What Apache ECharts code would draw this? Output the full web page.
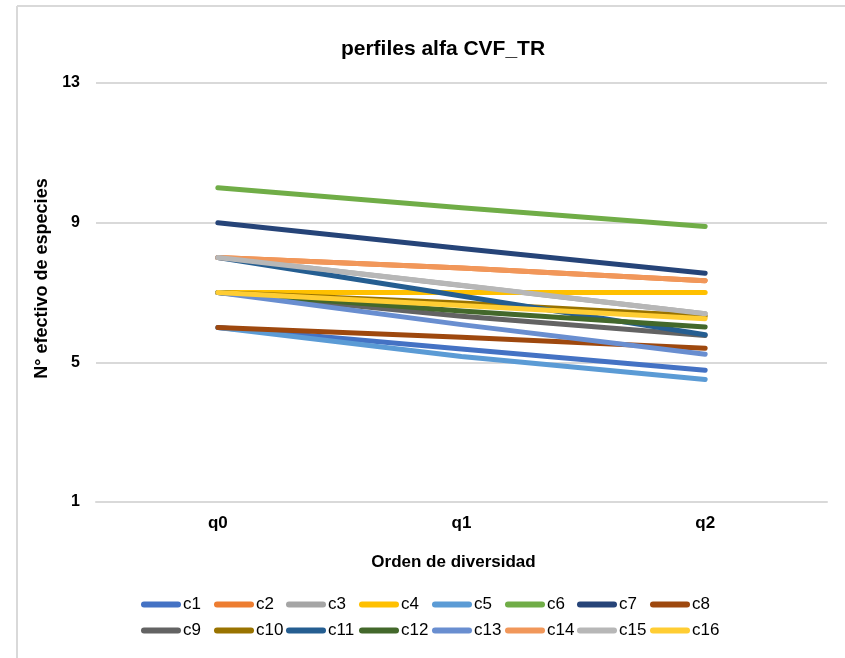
<!DOCTYPE html>
<html>
<head>
<meta charset="utf-8">
<title>perfiles alfa CVF_TR</title>
<script src="https://cdn.jsdelivr.net/npm/echarts@6/dist/echarts.min.js"></script>
<style>
  html, body { margin: 0; padding: 0; background: #ffffff; }
  #chart { width: 845px; height: 658px; }
</style>
</head>
<body>
<div id="chart"></div>
<script>
// Diversity orders on the x axis
const categories = ['q0', 'q1', 'q2'];

// Effective number of species per profile (q0, q1, q2)
const c1  = [6.00, 5.38, 4.77];
const c2  = [8.00, 7.70, 7.34];
const c3  = [8.00, 7.20, 6.39];
const c4  = [7.00, 7.00, 7.00];
const c5  = [6.00, 5.17, 4.51];
const c6  = [10.00, 9.43, 8.89];
const c7  = [9.00, 8.26, 7.55];
const c8  = [6.00, 5.72, 5.40];
const c9  = [7.00, 6.32, 5.77];
const c10 = [7.00, 6.70, 6.32];
const c11 = [8.00, 6.90, 5.79];
const c12 = [7.00, 6.47, 6.01];
const c13 = [7.00, 6.08, 5.23];
const c14 = [8.00, 7.70, 7.34];
const c15 = [8.00, 7.21, 6.39];
const c16 = [7.00, 6.63, 6.25];

const seriesNames = ['c1','c2','c3','c4','c5','c6','c7','c8','c9','c10','c11','c12','c13','c14','c15','c16'];
const seriesValues = [c1,c2,c3,c4,c5,c6,c7,c8,c9,c10,c11,c12,c13,c14,c15,c16];
const seriesColors = ['#4472C4','#ED7D31','#A5A5A5','#FFC000','#5B9BD5','#70AD47','#264478','#9E480E',
                      '#636363','#997300','#255E91','#43682B','#698ED0','#F1975A','#B7B7B7','#FFCD33'];

// Y axis ticks
const yMin = 1, yMax = 13, yStep = 4;

const font = '"Liberation Sans", Arial, sans-serif';

// Pill-shaped legend marker
const pill = 'path://M3,0 L37,0 A3,3 0 0 1 37,6 L3,6 A3,3 0 0 1 3,0 Z';

const chart = echarts.init(document.getElementById('chart'), null, { renderer: 'canvas' });

// Legend laid out as a fixed grid: 8 entries per row, equal pitch
const legendPitch = 72.7, legendLeft = 141, legendRowTops = [596, 622], perRow = 8;
const legends = seriesNames.map((name, i) => ({
  data: [{ name: name, icon: pill }],
  left: Math.round(legendLeft + (i % perRow) * legendPitch),
  top: legendRowTops[Math.floor(i / perRow)],
  orient: 'horizontal',
  itemWidth: 40,
  itemHeight: 6,
  padding: 0,
  selectedMode: false,
  textStyle: { fontFamily: font, fontSize: 17, color: '#000000', padding: [0, 0, 0, -3] }
}));

chart.setOption({
  animation: false,
  backgroundColor: '#ffffff',
  title: {
    text: 'perfiles alfa CVF_TR',
    left: 438,
    textAlign: 'center',
    top: 34,
    textStyle: { fontFamily: font, fontSize: 21, fontWeight: 'bold', color: '#000000' }
  },
  graphic: [
    { type: 'line', shape: { x1: 17, y1: 6, x2: 845, y2: 6 }, style: { stroke: '#d9d9d9', lineWidth: 2 }, silent: true },
    { type: 'line', shape: { x1: 17, y1: 6, x2: 17, y2: 658 }, style: { stroke: '#d9d9d9', lineWidth: 2 }, silent: true }
  ],
  legend: legends,
  grid: { left: 96, right: 18, top: 83, bottom: 156, containLabel: false, outerBoundsMode: 'none' },
  xAxis: {
    type: 'category',
    data: categories,
    boundaryGap: true,
    axisLine: { show: true, lineStyle: { color: '#d9d9d9', width: 2 } },
    axisTick: { show: false },
    axisLabel: { fontFamily: font, fontSize: 17, fontWeight: 'bold', color: '#000000', margin: 13 },
    name: 'Orden de diversidad',
    nameLocation: 'middle',
    nameGap: 52,
    nameTextStyle: { fontFamily: font, fontSize: 17, fontWeight: 'bold', color: '#000000', padding: [0, 16, 0, 0] }
  },
  yAxis: {
    type: 'value',
    min: yMin,
    max: yMax,
    interval: yStep,
    axisLine: { show: false },
    axisTick: { show: false },
    splitLine: { show: true, lineStyle: { color: '#d9d9d9', width: 2 } },
    axisLabel: { fontFamily: font, fontSize: 16, fontWeight: 'bold', color: '#000000', margin: 16 },
    name: 'N° efectivo de especies',
    nameLocation: 'middle',
    nameGap: 28,
    nameRotate: 90,
    nameTextStyle: { fontFamily: font, fontSize: 18, fontWeight: 'bold', color: '#000000', padding: [0, 0, 10, 28] }
  },
  series: seriesNames.map((name, i) => ({
    name: name,
    type: 'line',
    data: seriesValues[i],
    symbol: 'none',
    color: seriesColors[i],
    lineStyle: { width: 5, color: seriesColors[i], cap: 'round', join: 'round' },
    emphasis: { disabled: true }
  }))
});
</script>
</body>
</html>
